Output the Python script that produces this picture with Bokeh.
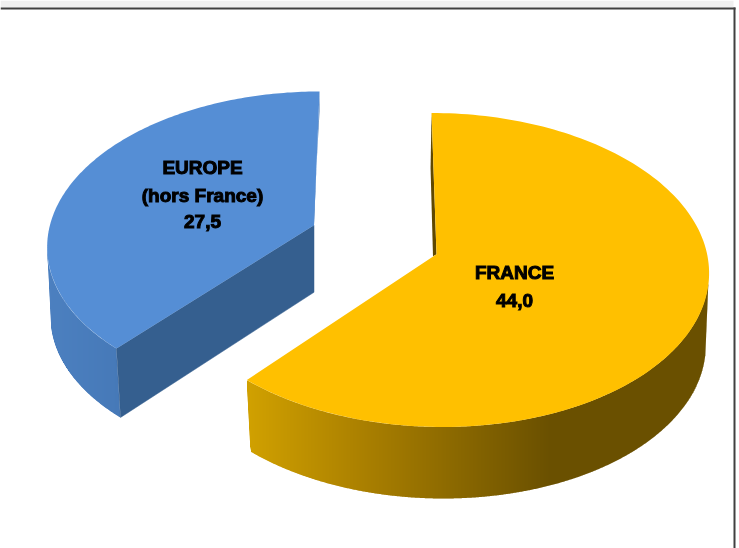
import numpy as np
from bokeh.plotting import figure
from bokeh.models import Range1d
from bokeh.core.properties import value
from bokeh.embed import file_html
from bokeh.resources import INLINE

# Chart data
categories = ["FRANCE", "EUROPE"]
sub_labels = [None, "(hors France)"]
values = [44.0, 27.5]

# Styles and layout of the 3D pie
top_colors = ["#FFC000", "#558ED5"]
inner_colors = ["#5F4800", "#355F8F"]
side_stops = [
    [(250, (208, 160, 0)), (369, (168, 126, 0)), (550, (106, 80, 0)), (710, (106, 80, 0))],
    [(46, (76, 128, 192)), (120, (70, 121, 184))],
]
geo = [
    dict(cx=436, cy=269.5, a=272, b=157, k=0.10, sk=-5.5, cxl=437, al=268, depth=71.5),
    dict(cx=313.5, cy=243, a=266, b=152, k=0.12, sk=6.3, cxl=319, al=268, depth=69),
]

W, H = 739, 548
p = figure(width=W, height=H, x_range=Range1d(0, W), y_range=Range1d(H, 0),
           output_backend="svg", toolbar_location=None, min_border=0)
p.axis.visible = False
p.grid.visible = False
p.outline_line_color = None
p.background_fill_color = "#FFFFFF"
p.styles = {"position": "fixed", "left": "0px", "top": "0px"}

# Window frame of the screenshot
p.quad(left=0, right=733, top=0, bottom=7, fill_color="#F0F0F0", fill_alpha=1, line_color=None)
p.quad(left=0, right=735, top=7, bottom=9, fill_color="#404040", fill_alpha=1, line_color=None)
p.quad(left=733, right=735, top=7, bottom=H, fill_color="#404040", fill_alpha=1, line_color=None)


def warp(theta, k):
    u, v = np.sin(theta), np.cos(theta)
    d = 1 + k * v
    return np.sqrt(1 - k * k) * u / d, (v + k) / d


def arc(g, theta, lower=False):
    xp, yp = warp(theta, g["k"])
    if lower:
        return g["cxl"] + g["al"] * xp + g["sk"] * (yp - g["k"]), g["cy"] + g["depth"] - g["b"] * yp
    return g["cx"] + g["a"] * xp + g["sk"] * (yp - g["k"]), g["cy"] - g["b"] * yp


def color_at(x, stops):
    xs = [s[0] for s in stops]
    rgb = [int(round(np.interp(x, xs, [s[1][i] for s in stops]))) for i in range(3)]
    return "#%02X%02X%02X" % tuple(rgb)


def span(px, py, x):
    """Vertical extent of a closed polygon at column x."""
    hits = []
    n = len(px)
    for a in range(n):
        b = (a + 1) % n
        x0, x1 = px[a], px[b]
        if min(x0, x1) <= x <= max(x0, x1):
            if x1 == x0:
                hits += [py[a], py[b]]
            else:
                hits.append(py[a] + (x - x0) / (x1 - x0) * (py[b] - py[a]))
    return (min(hits), max(hits)) if hits else None


total = sum(values)
ends = np.cumsum(values) / total * 2 * np.pi
starts = np.concatenate([[0], ends[:-1]])
side_ranges = [(np.radians(96), ends[0]), (starts[1], np.radians(263))]

# Rim of each slice: one-pixel vertical strips aligned on the pixel grid, each slightly
# overlapped by the next, so the shading is a seamless horizontal gradient
for i, g in enumerate(geo):
    t0, t1 = side_ranges[i]
    edges = np.linspace(t0, t1, 200)
    ux, uy = arc(g, edges)
    lx, ly = arc(g, edges, lower=True)
    px = np.r_[ux, lx[::-1]]
    py = np.r_[uy, ly[::-1]]
    xs, ys, cols = [], [], []
    for col in range(int(np.ceil(px.min())), int(np.floor(px.max()))):
        s0, s1 = span(px, py, col), span(px, py, col + 1)
        if s0 is None or s1 is None:
            continue
        xs.append([col - 0.5, col + 0.9, col + 0.9, col - 0.5])
        ys.append([s0[0], s1[0], s1[1], s0[1]])
        cols.append(color_at(col + 0.5, side_stops[i]))
    p.patches(xs, ys, fill_color=cols, fill_alpha=1, line_color=None)

# Cut faces
g = geo[0]
ax, ay = g["cx"], g["cy"] - g["b"] * g["k"]
tx, ty = arc(g, np.array([starts[0]]))
p.patch([tx[0], ax, ax - 3.5, tx[0] - 1], [ty[0], ay, ay + 2, ty[0] + 55],
        fill_color=inner_colors[0], fill_alpha=1, line_color=None)

g = geo[1]
ax, ay = g["cx"], g["cy"] - g["b"] * g["k"]
cx_, cy_ = arc(g, np.array([starts[1]]))
lx_, ly_ = arc(g, np.array([starts[1]]), lower=True)
p.patch([cx_[0], ax, ax, lx_[0]], [cy_[0], ay, ay + g["depth"] - 2, ly_[0]],
        fill_color=inner_colors[1], fill_alpha=1, line_color=inner_colors[1], line_width=0.5)
tx, ty = arc(g, np.array([ends[1]]))
p.patch([tx[0], ax, ax - 1, tx[0]], [ty[0], ay, ay + 2, ty[0] + 20],
        fill_color="#4A7AB5", fill_alpha=1, line_color=None)

# Top faces
for i, g in enumerate(geo):
    th = np.linspace(starts[i], ends[i], 160)
    x, y = arc(g, th)
    ax, ay = g["cx"], g["cy"] - g["b"] * g["k"]
    p.patch(np.r_[ax, x], np.r_[ay, y], fill_color=top_colors[i], fill_alpha=1, line_color=None)


def fmt(v):
    return f"{v:.1f}".replace(".", ",")


label_lines = [
    [categories[0], fmt(values[0])],
    [categories[1], sub_labels[1], fmt(values[1])],
]
label_x = [514, 202]
label_y = [[272, 300], [167, 195, 221]]
for lines, lx0, lys in zip(label_lines, label_x, label_y):
    p.text([lx0] * len(lines), lys, text=lines, text_font=value("Liberation Sans"),
           text_font_style="bold", text_font_size="19px", text_color="#000000",
           text_align="center", text_baseline="middle",
           text_outline_color="#000000")

open("out.html", "w").write(file_html(p, INLINE))
